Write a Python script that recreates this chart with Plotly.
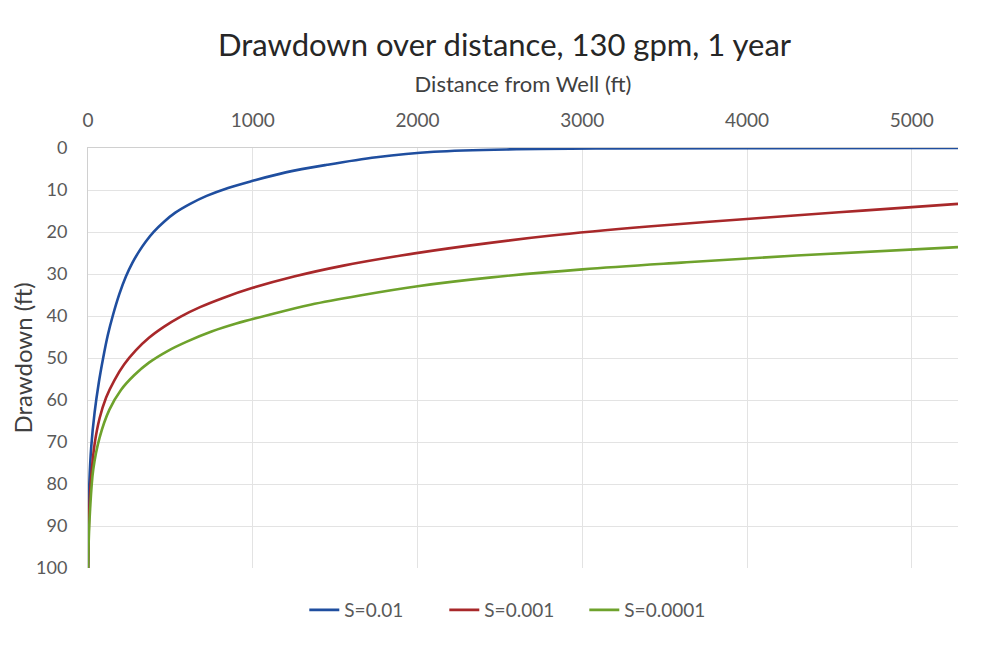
import plotly.graph_objects as go

# Distance from well (ft) and drawdown (ft)
r_s01 = [1, 3, 8, 20, 40, 65, 92, 120, 150, 190, 230, 270, 310, 350, 400, 460, 530,
         620, 720, 850, 1000, 1200, 1450, 1750, 2100, 2600, 3200, 4000, 5280]
d_s01 = [100, 90, 80, 71, 63, 56, 50, 44.6, 40, 34.8, 30.6, 27.3, 24.6, 22.3, 19.9, 17.6, 15.4,
         13.3, 11.4, 9.5, 7.8, 5.8, 4.0, 2.2, 0.9, 0.3, 0.1, 0.03, 0.0]

r_s001 = [1, 3, 8, 20, 40, 70, 110, 160, 220, 290, 370, 460, 560, 680, 820, 1000, 1250,
          1550, 1900, 2300, 2800, 3400, 4100, 4700, 5280]
d_s001 = [100, 94, 86, 78, 70.5, 64.4, 59.4, 55.3, 51.5, 48.2, 45.2, 42.6, 40.2, 37.9, 35.7, 33.3, 30.6,
          28.0, 25.6, 23.3, 20.9, 18.7, 16.6, 14.9, 13.3]

r_s0001 = [1, 4, 12, 32, 70, 130, 200, 280, 370, 480, 600, 750, 900, 1100, 1350, 1650,
           2000, 2450, 3000, 3600, 4300, 5280]
d_s0001 = [100, 94, 86.5, 76.5, 69, 62.3, 57.6, 54.1, 51.1, 48.4, 46.1, 43.7, 41.8, 39.7, 37.3, 35.1,
           32.9, 30.8, 28.9, 27.3, 25.6, 23.6]

names = ["S=0.01", "S=0.001", "S=0.0001"]
colors = ["#1f4e9f", "#a8282a", "#6ea22c"]

x_ticks = [0, 1000, 2000, 3000, 4000, 5000]
y_ticks = [0, 10, 20, 30, 40, 50, 60, 70, 80, 90, 100]

FONT = "Lato"
fig = go.Figure()
for r, d, n, c in zip([r_s01, r_s001, r_s0001], [d_s01, d_s001, d_s0001], names, colors):
    fig.add_trace(go.Scatter(x=r, y=d, name=n, mode="lines",
                             line=dict(color=c, width=2.6, shape="spline", smoothing=1.0)))

fig.update_layout(
    width=993, height=646,
    paper_bgcolor="white", plot_bgcolor="white",
    margin=dict(l=80, r=43, t=140, b=86),
    font=dict(family=FONT, color="#595959", size=18),
    title=dict(text="Drawdown over distance, 130 gpm, 1 year", x=0.5, xanchor="center",
               y=0.943, yanchor="middle", font=dict(family=FONT, size=31, color="#262626")),
    xaxis=dict(side="top", range=[0, 5280], tickvals=x_ticks, showgrid=True,
               gridcolor="#e3e3e3", gridwidth=1, showline=True, linecolor="#d0d0d0",
               zeroline=False, ticks="", ticklabelstandoff=12, tickfont=dict(size=19),
               automargin=False,
               title=dict(text="Distance from Well (ft)", standoff=9,
                          font=dict(family=FONT, size=22, color="#404040"))),
    yaxis=dict(range=[100, 0], tickvals=y_ticks, showgrid=True,
               gridcolor="#e3e3e3", gridwidth=1, showline=True, linecolor="#d0d0d0",
               zeroline=False, ticks="", ticklabelstandoff=16, automargin=False,
               title=dict(text="Drawdown (ft)", standoff=2,
                          font=dict(family=FONT, size=24, color="#404040"))),
    legend=dict(orientation="h", x=0.49, xanchor="center", y=-0.1, yanchor="middle",
                font=dict(family=FONT, size=19, color="#595959"),
                entrywidth=95, entrywidthmode="pixels"),
    showlegend=True,
)

fig.write_html("out.html")
